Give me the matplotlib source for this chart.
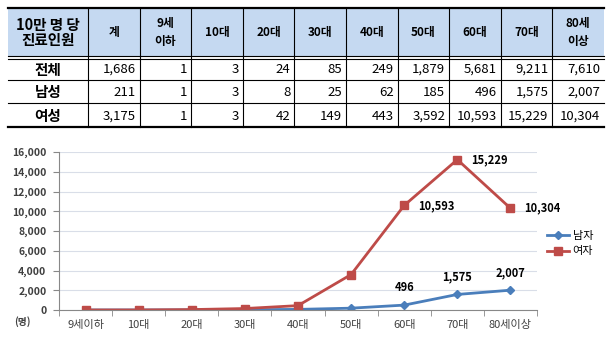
import numpy as np
import matplotlib.pyplot as plt
from matplotlib.patches import Rectangle

plt.rcParams['font.family'] = ['Noto Sans CJK KR', 'DejaVu Sans']

# table data
col_heads = ['계', '9세\n이하', '10대', '20대', '30대', '40대', '50대', '60대', '70대', '80세\n이상']
row_heads = ['전체', '남성', '여성']
total = ['1,686', '1', '3', '24', '85', '249', '1,879', '5,681', '9,211', '7,610']
male_tbl = ['211', '1', '3', '8', '25', '62', '185', '496', '1,575', '2,007']
female_tbl = ['3,175', '1', '3', '42', '149', '443', '3,592', '10,593', '15,229', '10,304']

# chart data
ages = ['9세이하', '10대', '20대', '30대', '40대', '50대', '60대', '70대', '80세이상']
male = [1, 3, 8, 25, 62, 185, 496, 1575, 2007]
female = [1, 3, 42, 149, 443, 3592, 10593, 15229, 10304]

W, H = 613, 339
fig = plt.figure(figsize=(W / 100, H / 100), dpi=100)

# ---- table drawn in pixel coords
tb = fig.add_axes([0, 0, 1, 1])
tb.set_xlim(0, W)
tb.set_ylim(H, 0)
tb.axis('off')

xs = [8, 88] + [88 + 51.6 * (i + 1) for i in range(10)]
ys = [8, 57, 80, 103, 127]
tb.add_patch(Rectangle((xs[0], ys[0]), xs[-1] - xs[0], ys[1] - ys[0],
                       facecolor='#C5D9F1', edgecolor='none'))
# horizontal lines
tb.plot([xs[0], xs[-1]], [ys[0], ys[0]], color='black', lw=1.6)
tb.plot([xs[0], xs[-1]], [ys[1] - 1, ys[1] - 1], color='black', lw=0.8)
tb.plot([xs[0], xs[-1]], [ys[1] + 1.5, ys[1] + 1.5], color='black', lw=0.8)
for y in ys[2:4]:
    tb.plot([xs[0], xs[-1]], [y, y], color='black', lw=0.8)
tb.plot([xs[0], xs[-1]], [ys[-1], ys[-1]], color='black', lw=1.6)
for x in xs[1:-1]:
    tb.plot([x, x], [ys[0], ys[-1]], color='black', lw=0.8)

tb.text((xs[0] + xs[1]) / 2, (ys[0] + ys[1]) / 2, '10만 명 당\n진료인원', ha='center',
        va='center', fontsize=10.5, fontweight='bold', linespacing=0.85)
for i, h in enumerate(col_heads):
    tb.text((xs[i + 1] + xs[i + 2]) / 2, (ys[0] + ys[1]) / 2, h, ha='center',
            va='center', fontsize=8.5, fontweight='bold', linespacing=1.5)
for r, (name, vals) in enumerate(zip(row_heads, [total, male_tbl, female_tbl])):
    yc = (ys[r + 1] + ys[r + 2]) / 2 + 1
    tb.text((xs[0] + xs[1]) / 2, yc, name, ha='center', va='center',
            fontsize=10.5, fontweight='bold')
    for i, v in enumerate(vals):
        tb.text(xs[i + 2] - 4, yc, v, ha='right', va='center', fontsize=9.5)

# ---- line chart
ax = fig.add_axes([59 / W, (H - 310) / H, (537 - 59) / W, (310 - 152) / H])
x = np.arange(len(ages))
ax.plot(x, male, color='#4A7EBB', lw=2, marker='D', ms=4, label='남자')
ax.plot(x, female, color='#BE4B48', lw=2, marker='s', ms=6, label='여자')
ax.set_xlim(-0.5, len(ages) - 0.5)
ax.set_ylim(0, 16000)
ax.set_yticks(range(0, 16001, 2000))
ax.set_yticklabels([f'{v:,}' for v in range(0, 16001, 2000)], fontsize=7.5,
                   fontweight='bold', color='#404040')
ax.set_xticks(x)
ax.set_xticklabels(ages, fontsize=8, color='#404040')
ax.set_xticks(np.arange(-0.5, len(ages), 1), minor=True)
ax.tick_params(axis='x', which='major', length=0, pad=7)
ax.tick_params(axis='x', which='minor', length=4, color='#888888')
ax.tick_params(axis='y', length=4, color='#888888', pad=5)
ax.grid(axis='y', color='#D9DEE8', lw=0.8)
ax.set_axisbelow(True)
for s in ['top', 'right']:
    ax.spines[s].set_visible(False)
ax.spines['left'].set_color('#888888')
ax.spines['bottom'].set_color('#888888')

for i in range(6, 9):
    ax.annotate(f'{male[i]:,}', (x[i], male[i]), xytext=(0, 8),
                textcoords='offset points', ha='center', va='bottom',
                fontsize=8, fontweight='bold')
    ax.annotate(f'{female[i]:,}', (x[i], female[i]), xytext=(10, 0),
                textcoords='offset points', ha='left', va='center',
                fontsize=8, fontweight='bold')

tb.text(22, 322, '(명)', fontsize=7, fontweight='bold', color='#404040',
        ha='center', va='center')
ax.legend(loc='center left', bbox_to_anchor=(1.0, 0.42), frameon=False,
          fontsize=8, handlelength=2.0, labelspacing=0.5, handletextpad=0.3)

fig.savefig('out.png', dpi=100)
